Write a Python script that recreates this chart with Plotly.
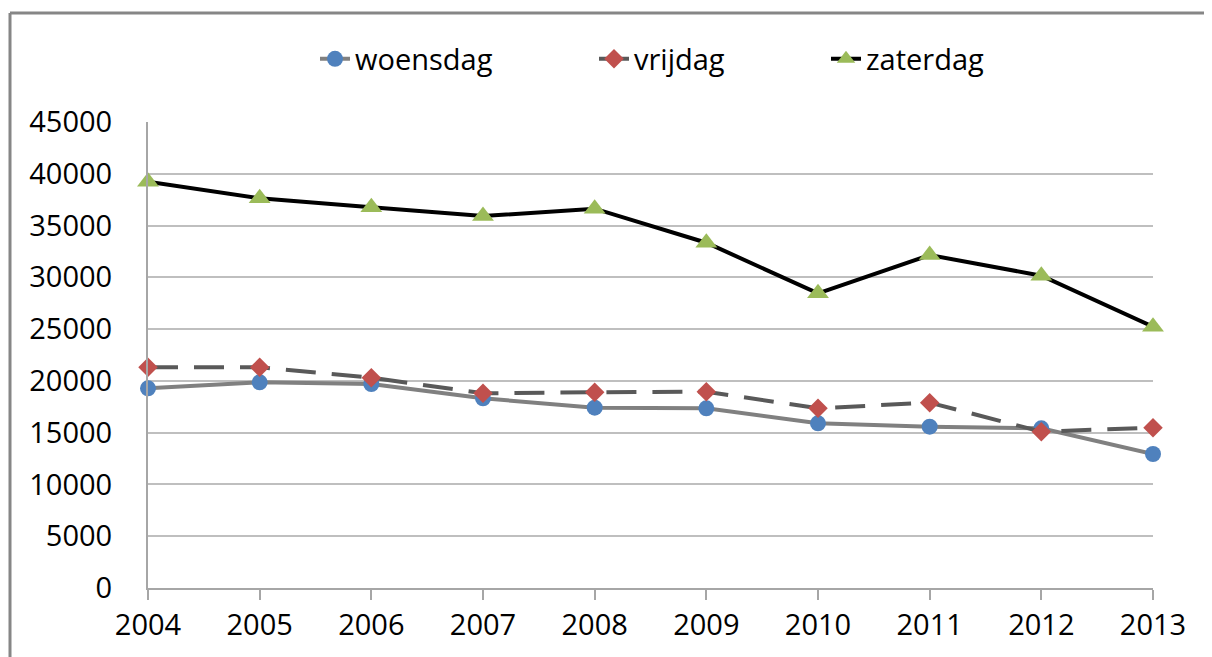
import plotly.graph_objects as go

years = [2004, 2005, 2006, 2007, 2008, 2009, 2010, 2011, 2012, 2013]
woensdag = [19280, 19860, 19700, 18320, 17410, 17350, 15900, 15580, 15420, 12940]
vrijdag = [21310, 21310, 20310, 18800, 18900, 18950, 17350, 17900, 15100, 15480]
zaterdag = [39230, 37630, 36760, 35920, 36630, 33340, 28460, 32150, 30160, 25230]
y_ticks = [0, 5000, 10000, 15000, 20000, 25000, 30000, 35000, 40000, 45000]

FONT = "Open Sans"
FS = 29

# page body has an 8px margin; plot area target: x 148..1153, y 122..588 (screen)
OFF = 8
L, T = 148 - OFF, 122 - OFF
PW, PH = 1005, 466


def px(xs):
    return (xs - 148) / PW


def py(ys):
    return (588 - ys) / PH


fig = go.Figure()
fig.add_trace(go.Scatter(
    x=years, y=woensdag, name="woensdag", mode="lines+markers",
    line=dict(color="#808080", width=4),
    marker=dict(symbol="circle", size=16, color="#4f81bd"),
    cliponaxis=False, legend="legend",
))
fig.add_trace(go.Scatter(
    x=years, y=vrijdag, name="vrijdag", mode="lines+markers",
    line=dict(color="#595959", width=4, dash="30px,16px"),
    marker=dict(symbol="diamond", size=15, color="#c0504d"),
    cliponaxis=False, legend="legend2",
))
fig.add_trace(go.Scatter(
    x=years, y=zaterdag, name="zaterdag", mode="lines+markers",
    line=dict(color="#000000", width=4),
    marker=dict(symbol="triangle-up", size=19, color="#9bbb59"),
    cliponaxis=False, legend="legend3",
))


def leg(xpix):
    return dict(
        orientation="h", x=px(xpix), xanchor="left", y=py(59), yanchor="middle",
        bgcolor="rgba(0,0,0,0)", font=dict(family=FONT, size=FS),
    )


fig.update_layout(
    width=1212, height=657,
    margin=dict(l=L, r=1212 - L - PW, t=T, b=657 - T - PH, autoexpand=False),
    paper_bgcolor="white", plot_bgcolor="white",
    font=dict(family=FONT, size=FS, color="#000000"),
    showlegend=True,
    legend=leg(315),
    legend2=leg(594),
    legend3=leg(826),
    xaxis=dict(
        range=[2004, 2013], tickmode="array", tickvals=years,
        ticktext=[str(y) for y in years],
        showgrid=False, showline=True, linecolor="#a6a6a6", linewidth=2,
        ticks="outside", ticklen=10, tickcolor="#a6a6a6", tickwidth=1.5,
        ticklabelstandoff=0, zeroline=False,
    ),
    yaxis=dict(
        range=[0, 45000], tickmode="array", tickvals=y_ticks,
        ticktext=[str(v) for v in y_ticks],
        showgrid=True, gridcolor="#bfbfbf", gridwidth=1.5,
        showline=True, linecolor="#a6a6a6", linewidth=2,
        ticks="", ticklabelstandoff=28, zeroline=False,
    ),
    shapes=[
        dict(type="line", xref="paper", yref="paper",
             x0=px(10), x1=px(10), y0=-0.4, y1=py(13),
             line=dict(color="#868686", width=3), layer="below"),
        dict(type="line", xref="paper", yref="paper",
             x0=px(10), x1=1.3, y0=py(13), y1=py(13),
             line=dict(color="#868686", width=3), layer="below"),
    ],
)

fig.write_html("out.html")
